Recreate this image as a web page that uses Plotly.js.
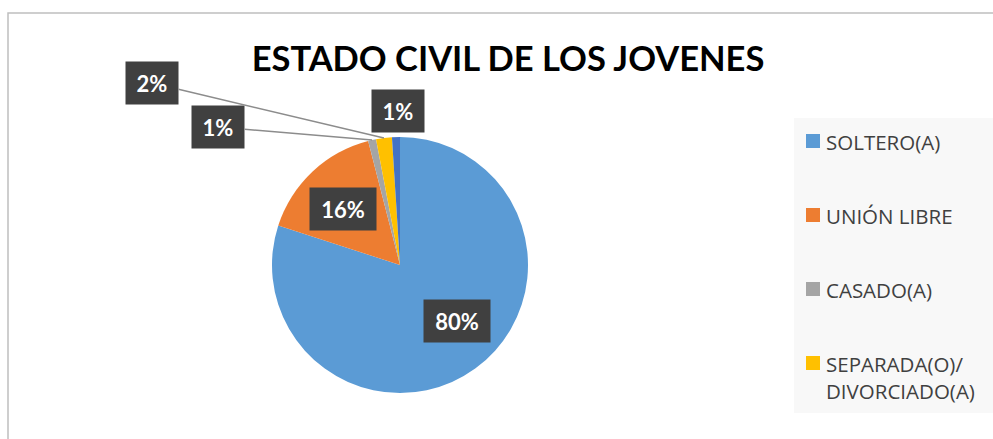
<!DOCTYPE html>
<html>
<head>
<meta charset="utf-8">
<script src="https://cdn.plot.ly/plotly-3.0.1.min.js"></script>
<style>
  html, body { margin: 0; padding: 0; background: #fff; }
  #chart { width: 993px; height: 439px; }
</style>
</head>
<body>
<div id="chart"></div>
<script>
// --- DATOS ---
const categories = ['SOLTERO(A)', 'UNIÓN LIBRE', 'CASADO(A)', 'SEPARADA(O)/ DIVORCIADO(A)', 'VIUDO(A)'];
const percentages = [80, 16, 1, 2, 1];
const sliceColors = ['#5B9BD5', '#ED7D31', '#A5A5A5', '#FFC000', '#4472C4'];
const legendCount = 4; // la leyenda original solo muestra las 4 primeras

// --- GEOMETRÍA (px) ---
const W = 993, H = 439;
const cx = 400, cy = 265, r = 128;

// desplazamiento de cada etiqueta respecto al borde de su porción (px)
const labelOffsets = [[-18, -48], [31, 37], [-154, -13], [-232, -55], [2, -26]];
const withLeader = [false, false, true, true, false];

const px = x => x / W;
const py = y => 1 - y / H;

// punto medio del borde de cada porción (sentido horario desde las 12)
const total = percentages.reduce((a, b) => a + b, 0);
let acc = 0;
const labelAnnotations = percentages.map((v, i) => {
  const mid = (acc + v / 2) / total * 2 * Math.PI;
  acc += v;
  const ex = cx + r * Math.sin(mid);
  const ey = cy - r * Math.cos(mid);
  return {
    x: px(ex), y: py(ey), xref: 'paper', yref: 'paper',
    text: '<b>' + Math.round(v / total * 100) + '%</b>',
    showarrow: true, arrowhead: 0, arrowwidth: 1.5,
    arrowcolor: withLeader[i] ? '#8c8c8c' : 'rgba(0,0,0,0)',
    ax: labelOffsets[i][0], ay: labelOffsets[i][1],
    width: 50, height: 40,
    bgcolor: '#404040',
    font: { family: 'Lato, sans-serif', size: 22, color: '#ffffff' }
  };
});
// las cajas internas son algo más anchas
labelAnnotations[0].width = 64;
labelAnnotations[1].width = 64;

// --- LEYENDA (como en el original, recortada) ---
const legFont = 20.5, legTop = 141, legStep = 74;
const legendShapes = [{
  type: 'rect', xref: 'paper', yref: 'paper',
  x0: px(794), x1: px(W + 5), y0: py(413), y1: py(118),
  fillcolor: '#f8f8f8', line: { width: 0 }, layer: 'below'
}];
const legendAnnotations = [];
for (let i = 0; i < legendCount; i++) {
  const yc = legTop + i * legStep;
  legendShapes.push({
    type: 'rect', xref: 'paper', yref: 'paper',
    x0: px(806), x1: px(820), y0: py(yc + 7), y1: py(yc - 7),
    fillcolor: sliceColors[i], line: { width: 0 }
  });
  legendAnnotations.push({
    x: px(824), y: py(yc - legFont * 0.65 - 2), xref: 'paper', yref: 'paper',
    xanchor: 'left', yanchor: 'top', align: 'left', showarrow: false,
    text: categories[i].replace('/ ', '/<br>'),
    font: { family: 'Open Sans, sans-serif', size: legFont, color: '#404040' }
  });
}

// borde del gráfico
const frame = {
  type: 'rect', xref: 'paper', yref: 'paper',
  x0: px(8), x1: px(W + 10), y0: py(H + 10), y1: py(13),
  line: { color: '#bfbfbf', width: 1.5 }, fillcolor: 'rgba(0,0,0,0)'
};

const tracePie = {
  type: 'pie',
  labels: categories,
  values: percentages,
  sort: false,
  direction: 'clockwise',
  rotation: 0,
  textinfo: 'none',
  hoverinfo: 'label+percent',
  marker: { colors: sliceColors, line: { width: 0 } },
  domain: { x: [px(cx - r), px(cx + r)], y: [py(cy + r), py(cy - r)] },
  showlegend: false
};

const layout = {
  width: W, height: H,
  margin: { l: 0, r: 0, t: 0, b: 0 },
  paper_bgcolor: '#ffffff',
  title: {
    text: 'ESTADO CIVIL DE LOS JOVENES',
    x: px(508), y: py(59), xanchor: 'center', yanchor: 'middle',
    font: { family: 'Lato, sans-serif', size: 34.5, weight: 700, color: '#000000' }
  },
  showlegend: false,
  shapes: [frame, ...legendShapes],
  annotations: [...labelAnnotations, ...legendAnnotations]
};

Plotly.newPlot('chart', [tracePie], layout, { displayModeBar: false, staticPlot: true });
</script>
</body>
</html>
